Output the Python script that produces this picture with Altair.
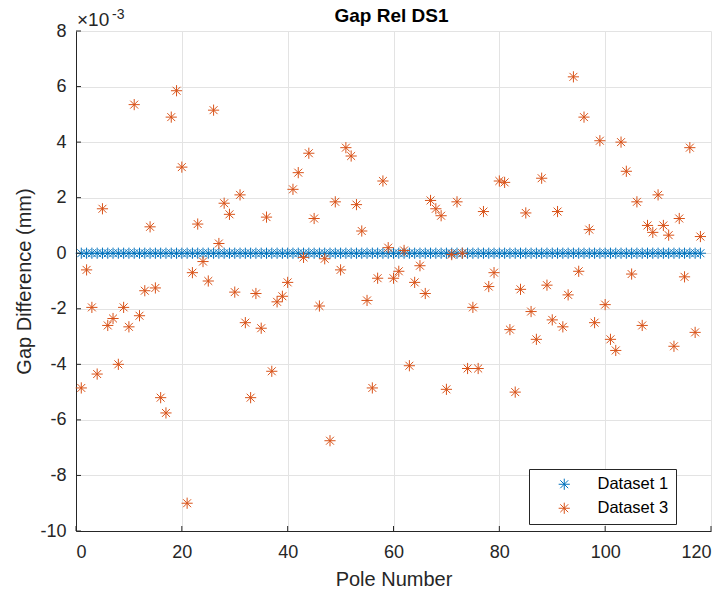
import altair as alt
import pandas as pd

# ---------------- data ----------------
poles = list(range(1, 119))
# Dataset 1: gap difference (x1e-3 mm)
ds1 = [0.0] * 118
# Dataset 3: gap difference (x1e-3 mm)
ds3 = [
    -4.85, -0.6, -1.95, -4.35, 1.6, -2.6, -2.35, -4.0, -1.95, -2.65,
    5.35, -2.25, -1.35, 0.95, -1.25, -5.2, -5.75, 4.9, 5.85, 3.1,
    -9.0, -0.7, 1.05, -0.3, -1.0, 5.15, 0.35, 1.8, 1.4, -1.4,
    2.1, -2.5, -5.2, -1.45, -2.7, 1.3, -4.25, -1.75, -1.55, -1.05,
    2.3, 2.9, -0.15, 3.6, 1.25, -1.9, -0.2, -6.75, 1.85, -0.6,
    3.8, 3.5, 1.75, 0.8, -1.7, -4.85, -0.9, 2.6, 0.2, -0.9,
    -0.65, 0.1, -4.05, -1.05, -0.45, -1.45, 1.9, 1.6, 1.35, -4.9,
    -0.05, 1.85, 0.0, -4.15, -1.95, -4.15, 1.5, -1.2, -0.7, 2.6,
    2.55, -2.75, -5.0, -1.3, 1.45, -2.1, -3.1, 2.7, -1.15, -2.4,
    1.5, -2.65, -1.5, 6.35, -0.65, 4.9, 0.85, -2.5, 4.05, -1.85,
    -3.1, -3.5, 4.0, 2.95, -0.75, 1.85, -2.6, 1.0, 0.75, 2.1,
    1.0, 0.65, -3.35, 1.25, -0.85, 3.8, -2.85, 0.6,
]
series_names = ["Dataset 1", "Dataset 3"]
series_colors = ["#0072BD", "#D95319"]
x_ticks = [0, 20, 40, 60, 80, 100, 120]
y_ticks = [-10, -8, -6, -4, -2, 0, 2, 4, 6, 8]
title_text = "Gap Rel DS1"
x_title = "Pole Number"
y_title = "Gap Difference (mm)"
exp_text = "×10"
exp_power = "-3"

df = pd.DataFrame({
    "pole": poles + poles,
    "gap": ds1 + ds3,
    "series": [series_names[0]] * len(poles) + [series_names[1]] * len(poles),
})

# ---------------- style ----------------
W, H = 635, 500
FONT = "Liberation Sans"
INK = "#262626"
ASTERISK = ("M-1,0L1,0M0,-1L0,1M-0.7071,-0.7071L0.7071,0.7071"
            "M-0.7071,0.7071L0.7071,-0.7071")

xscale = alt.Scale(domain=[0, 120], nice=False, zero=False, padding=0)
yscale = alt.Scale(domain=[-10, 8], nice=False, zero=False, padding=0)

points = alt.Chart(df).mark_point(
    shape=ASTERISK, filled=False, size=125, strokeWidth=1, opacity=1
).encode(
    x=alt.X("pole:Q", scale=xscale,
            axis=alt.Axis(values=x_ticks, title=x_title, labelPadding=12,
                          labelExpr="'' + datum.value",
                          titleY=54, titleBaseline="alphabetic")),
    y=alt.Y("gap:Q", scale=yscale,
            axis=alt.Axis(values=y_ticks, title=y_title, labelPadding=10,
                          labelExpr="'' + datum.value",
                          titleX=-46, titleBaseline="alphabetic")),
    color=alt.Color("series:N",
                    scale=alt.Scale(domain=series_names, range=series_colors),
                    legend=alt.Legend(
                        orient="none", legendX=453, legendY=438, title=None,
                        direction="vertical",
                        symbolType=ASTERISK, symbolSize=125, symbolStrokeWidth=1,
                        symbolOffset=20, labelOffset=25,
                        labelFont=FONT, labelFontSize=16.5, labelColor="#000000",
                        strokeColor=INK, fillColor="white", padding=7,
                        rowPadding=7, labelLimit=300)),
)

xt = alt.Chart(pd.DataFrame({"t": x_ticks})).mark_rule(color=INK, strokeWidth=1).encode(
    x=alt.X("t:Q", scale=xscale), y=alt.value(H), y2=alt.value(H - 5))
yt = alt.Chart(pd.DataFrame({"t": y_ticks})).mark_rule(color=INK, strokeWidth=1).encode(
    y=alt.Y("t:Q", scale=yscale), x=alt.value(0), x2=alt.value(5))

exp_base = alt.Chart(pd.DataFrame({"s": [exp_text]})).mark_text(
    font=FONT, fontSize=19, color=INK, align="left", baseline="alphabetic"
).encode(text="s:N", x=alt.value(1), y=alt.value(-5.5))
exp_sup = alt.Chart(pd.DataFrame({"s": [exp_power]})).mark_text(
    font=FONT, fontSize=14, color=INK, align="left", baseline="alphabetic"
).encode(text="s:N", x=alt.value(36), y=alt.value(-12.5))

title = alt.Chart(pd.DataFrame({"s": [title_text]})).mark_text(
    font=FONT, fontSize=19, fontWeight="bold", color="#000000",
    align="center", baseline="alphabetic"
).encode(text="s:N", x=alt.value(W / 2 - 2), y=alt.value(-9))

chart = alt.layer(points, xt, yt, exp_base, exp_sup, title).properties(
    width=W, height=H,
    autosize=alt.AutoSizeParams(type="none"),
    padding={"left": 68, "top": 23, "right": 8, "bottom": 55},
    background="white",
).configure_view(stroke=None).configure_axis(
    grid=True, gridColor="#e3e3e3", gridWidth=1, ticks=False,
    domainColor=INK, domainWidth=1,
    labelFont=FONT, labelFontSize=18, labelColor=INK,
    titleFont=FONT, titleFontSize=20, titleFontWeight="normal", titleColor=INK,
)

chart.save("out.html", embed_options={"renderer": "svg", "actions": False})
